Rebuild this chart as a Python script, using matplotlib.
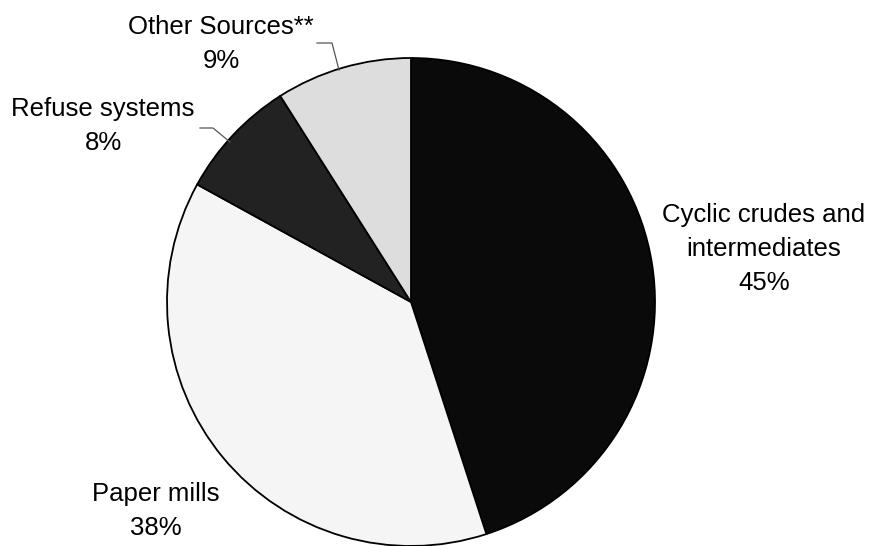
import matplotlib.pyplot as plt

plt.rcParams['font.family'] = ['Liberation Sans', 'DejaVu Sans']

labels = ['Cyclic crudes and\nintermediates', 'Paper mills', 'Refuse systems', 'Other Sources**']
shares = [45, 38, 8, 9]
colors = ['#0a0a0a', '#f5f5f5', '#222222', '#dddddd']

W, H = 875, 546
fig = plt.figure(figsize=(W / 100, H / 100), dpi=100)
ax = fig.add_axes([0, 0, 1, 1])

cx, cy, r = 411, H - 302, 244
ax.pie(shares, colors=colors, startangle=90, counterclock=False,
       center=(cx, cy), radius=r, frame=True,
       wedgeprops=dict(edgecolor='black', linewidth=1.3))
ax.set_xlim(0, W)
ax.set_ylim(0, H)
ax.set_aspect('equal')
ax.axis('off')

fs = 18.5
# label positions in pixel coordinates (top-left origin)
label_pos = [(764, 249), (156, 511), (103, 126), (221, 44)]
for lab, s, (x, y) in zip(labels, shares, label_pos):
    ax.text(x, H - y, f'{lab}\n{s}%', ha='center', va='center',
            fontsize=fs, linespacing=1.55)

# leader lines
ax.plot([339, 332, 317], [H - 70, H - 43, H - 43], color='#555555', lw=0.9)
ax.plot([230, 213, 200], [H - 142, H - 128, H - 128], color='#555555', lw=0.9)

fig.savefig('out.png', dpi=100)
